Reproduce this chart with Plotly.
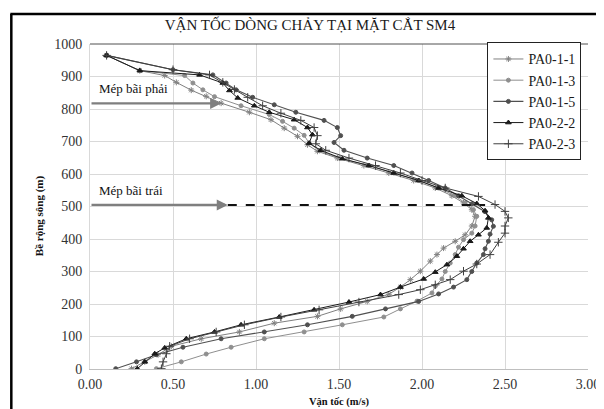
import plotly.graph_objects as go

# ---------------- data (velocity m/s, width m) ----------------
series_names = ["PA0-1-1", "PA0-1-3", "PA0-1-5", "PA0-2-2", "PA0-2-3"]

pa011_v = [0.10, 0.30, 0.45, 0.52, 0.61, 0.70, 0.79, 0.96, 1.09, 1.17, 1.25, 1.31, 1.37, 1.49, 1.65, 1.80, 1.95, 2.08, 2.18, 2.25, 2.30, 2.32, 2.30, 2.26, 2.20, 2.13, 2.09, 2.05, 1.99, 1.93, 1.87, 1.80, 1.67, 1.51, 1.37, 1.11, 0.90, 0.67, 0.49, 0.41, 0.33, 0.25]
pa011_w = [965, 918, 903, 882, 858, 839, 818, 790, 767, 741, 716, 690, 670, 649, 626, 603, 580, 557, 533, 511, 490, 470, 440, 413, 393, 372, 352, 332, 301, 275, 252, 230, 208, 185, 162, 141, 114, 93, 70, 44, 22, 1]

pa013_v = [0.10, 0.30, 0.57, 0.62, 0.68, 0.75, 0.91, 1.08, 1.16, 1.23, 1.29, 1.32, 1.38, 1.50, 1.68, 1.83, 1.98, 2.10, 2.20, 2.26, 2.31, 2.33, 2.32, 2.30, 2.25, 2.22, 2.20, 2.17, 2.14, 2.12, 2.08, 2.06, 1.97, 1.87, 1.77, 1.52, 1.29, 1.05, 0.85, 0.70, 0.55, 0.40]
pa013_w = [965, 918, 903, 880, 859, 838, 810, 783, 762, 741, 719, 695, 672, 649, 626, 603, 580, 557, 533, 511, 490, 470, 440, 418, 398, 375, 352, 326, 300, 277, 255, 234, 209, 185, 160, 136, 114, 93, 67, 46, 22, 1]

pa015_v = [0.10, 0.50, 0.74, 0.82, 0.88, 0.98, 1.11, 1.24, 1.41, 1.49, 1.51, 1.47, 1.53, 1.67, 1.83, 1.94, 2.04, 2.14, 2.22, 2.30, 2.38, 2.42, 2.43, 2.41, 2.40, 2.38, 2.37, 2.33, 2.30, 2.27, 2.19, 2.10, 1.98, 1.78, 1.58, 1.31, 1.05, 0.79, 0.56, 0.40, 0.28, 0.155]
pa015_w = [965, 921, 905, 880, 859, 836, 813, 790, 765, 743, 718, 697, 673, 649, 626, 603, 580, 557, 533, 508, 484, 459, 439, 415, 393, 370, 352, 326, 300, 275, 252, 231, 208, 185, 162, 136, 114, 93, 67, 44, 22, 1]

pa022_v = [0.10, 0.30, 0.66, 0.80, 0.84, 0.89, 0.99, 1.08, 1.23, 1.31, 1.34, 1.32, 1.39, 1.52, 1.68, 1.83, 1.98, 2.10, 2.24, 2.33, 2.38, 2.40, 2.39, 2.34, 2.29, 2.25, 2.21, 2.15, 2.08, 2.01, 1.87, 1.75, 1.56, 1.35, 1.14, 0.91, 0.75, 0.58, 0.45, 0.39, 0.33, 0.285]
pa022_w = [965, 918, 905, 880, 857, 834, 810, 790, 767, 743, 721, 695, 673, 647, 626, 603, 580, 557, 533, 509, 487, 465, 434, 413, 393, 370, 347, 321, 298, 277, 252, 229, 206, 182, 160, 136, 114, 93, 65, 47, 22, 1]

pa023_v = [0.10, 0.50, 0.72, 0.80, 0.87, 0.95, 1.04, 1.15, 1.27, 1.35, 1.37, 1.36, 1.42, 1.56, 1.72, 1.87, 2.00, 2.14, 2.34, 2.44, 2.50, 2.52, 2.50, 2.50, 2.46, 2.41, 2.33, 2.25, 2.17, 2.08, 1.99, 1.86, 1.62, 1.38, 1.15, 0.93, 0.76, 0.60, 0.48, 0.46, 0.44, 0.43]
pa023_w = [965, 921, 905, 882, 860, 836, 810, 787, 765, 743, 718, 693, 673, 649, 626, 603, 580, 557, 531, 506, 485, 465, 440, 418, 390, 352, 323, 301, 275, 259, 244, 229, 206, 182, 160, 136, 114, 93, 70, 47, 22, 1]

x_ticks = [0.0, 0.5, 1.0, 1.5, 2.0, 2.5, 3.0]
y_ticks = [0, 100, 200, 300, 400, 500, 600, 700, 800, 900, 1000]

# annotation values
right_bank_w = 817
right_bank_arrow_v = 0.79
left_bank_w = 505
left_bank_arrow_v = 0.83
left_bank_dash_end_v = 2.38

SERIF = "Liberation Serif, Times New Roman, serif"

fig = go.Figure()

styles = [
    dict(color="#808080", symbol="asterisk-open", size=5, lw=1.0),
    dict(color="#8f8f8f", symbol="circle", size=4, lw=1.0),
    dict(color="#505050", symbol="circle", size=4, lw=1.1),
    dict(color="#1a1a1a", symbol="triangle-up", size=5, lw=1.0),
    dict(color="#404040", symbol="cross-thin-open", size=6, lw=1.0),
]
data = [(pa011_v, pa011_w), (pa013_v, pa013_w), (pa015_v, pa015_w),
        (pa022_v, pa022_w), (pa023_v, pa023_w)]

for name, (v, w), st in zip(series_names, data, styles):
    fig.add_trace(go.Scatter(
        x=v, y=w, name=name, mode="lines+markers",
        line=dict(color=st["color"], width=st["lw"]),
        marker=dict(symbol=st["symbol"], size=st["size"], color=st["color"],
                    line=dict(color=st["color"], width=1)),
    ))

W, H = 604, 409
L, R, T, B = 82, 22, 36, 48
pw, ph = W - L - R, H - T - B
def px(xp): return (xp - L) / pw
def py(yp): return (H - B - yp) / ph

# bank annotations
fig.add_annotation(x=right_bank_arrow_v, y=right_bank_w, ax=0, ay=right_bank_w,
                   xref="x", yref="y", axref="x", ayref="y", text="",
                   showarrow=True, arrowhead=2, arrowsize=1, arrowwidth=2.2,
                   arrowcolor="#7f7f7f", standoff=0)
fig.add_annotation(x=left_bank_arrow_v, y=left_bank_w, ax=0, ay=left_bank_w,
                   xref="x", yref="y", axref="x", ayref="y", text="",
                   showarrow=True, arrowhead=2, arrowsize=1, arrowwidth=2.2,
                   arrowcolor="#7f7f7f", standoff=0)
fig.add_shape(type="line", x0=left_bank_arrow_v, x1=left_bank_dash_end_v,
              y0=left_bank_w, y1=left_bank_w, xref="x", yref="y",
              line=dict(color="#111111", width=2, dash="dash"))
fig.add_annotation(x=0.04, y=862, xref="x", yref="y", text="Mép bãi phải",
                   showarrow=False, xanchor="left", yanchor="middle",
                   font=dict(family=SERIF, size=13, color="#111111"))
fig.add_annotation(x=0.04, y=550, xref="x", yref="y", text="Mép bãi trái",
                   showarrow=False, xanchor="left", yanchor="middle",
                   font=dict(family=SERIF, size=13, color="#111111"))

# axis titles
fig.add_annotation(x=px(32), y=py(208), xref="paper", yref="paper",
                   text="<b>Bề rộng sông (m)</b>", textangle=-90, showarrow=False,
                   xanchor="center", yanchor="middle",
                   font=dict(family=SERIF, size=11, color="#111111"))
fig.add_annotation(x=0.5, y=py(394), xref="paper", yref="paper",
                   text="<b>Vận tốc (m/s)</b>", showarrow=False,
                   xanchor="center", yanchor="middle",
                   font=dict(family=SERIF, size=10.5, color="#111111"))

# top plot border & outer frame
fig.add_shape(type="line", x0=0, x1=1, y0=1, y1=1, xref="paper", yref="paper",
              line=dict(color="#505050", width=1))
fig.add_shape(type="line", x0=px(3), x1=px(3), y0=py(6), y1=py(409), xref="paper", yref="paper",
              line=dict(color="#000000", width=2.5))
fig.add_shape(type="line", x0=px(2), x1=px(604), y0=py(6), y1=py(6), xref="paper", yref="paper",
              line=dict(color="#000000", width=2.5))
fig.add_shape(type="line", x0=px(600), x1=px(600), y0=py(6), y1=py(409), xref="paper", yref="paper",
              line=dict(color="#000000", width=1.5))

fig.update_layout(
    width=W, height=H,
    margin=dict(l=L, r=R, t=T, b=B, pad=0),
    paper_bgcolor="white", plot_bgcolor="white",
    title=dict(text="VẬN TỐC DÒNG CHẢY TẠI MẶT CẮT SM4", x=0.5, xref="container",
               y=1 - 17/409, yref="container", xanchor="center", yanchor="middle",
               font=dict(family=SERIF, size=15, color="#1a1a1a")),
    showlegend=True,
    legend=dict(x=px(481), y=1.005, xanchor="left", yanchor="top",
                bordercolor="#222222", borderwidth=1, bgcolor="white",
                font=dict(family=SERIF, size=14, color="#1a1a1a"),
                itemwidth=30, tracegroupgap=0),
    xaxis=dict(range=[0, 3], tickvals=x_ticks, tickformat=".2f",
               showgrid=True, gridcolor="#d9d9d9", gridwidth=1,
               zeroline=False, showline=True, linecolor="#bfbfbf", linewidth=1,
               ticks="", ticklabelstandoff=2,
               tickfont=dict(family=SERIF, size=14, color="#333333")),
    yaxis=dict(range=[0, 1000], tickvals=y_ticks,
               showgrid=True, gridcolor="#d9d9d9", gridwidth=1,
               zeroline=False, showline=True, linecolor="#d9d9d9", linewidth=1,
               ticks="", ticklabelstandoff=4,
               tickfont=dict(family=SERIF, size=14, color="#333333")),
)

fig.write_html("out.html")
